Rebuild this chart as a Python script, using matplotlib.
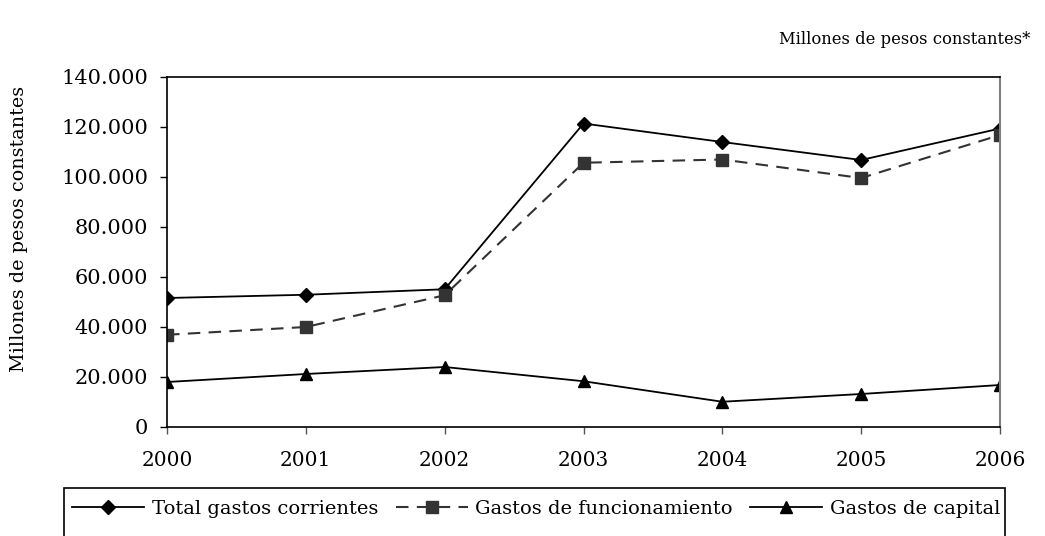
import numpy as np
import matplotlib
matplotlib.use('Agg')
import matplotlib.pyplot as plt
from matplotlib.ticker import FuncFormatter
from matplotlib.patches import Rectangle

years = [2000, 2001, 2002, 2003, 2004, 2005, 2006]
total_corrientes = [51600, 52900, 55100, 121400, 114000, 106800, 119400]
funcionamiento = [36900, 40000, 52700, 105700, 107000, 99600, 116800]
capital = [18000, 21200, 24000, 18300, 10100, 13200, 16800]

plt.rcParams['font.family'] = ['DejaVu Serif']

fig = plt.figure(figsize=(10.45, 5.36), dpi=100)
ax = fig.add_axes([167/1045, 1-427/536, (1000-167)/1045, (427-77)/536])

x = np.arange(len(years))
ax.plot(x, total_corrientes, color='black', lw=1.3, marker='D', ms=7,
        label='Total gastos corrientes')
ax.plot(x, funcionamiento, color='#333333', lw=1.5, ls=(0, (6, 4)), marker='s', ms=8,
        label='Gastos de funcionamiento')
ax.plot(x, capital, color='black', lw=1.3, marker='^', ms=9,
        label='Gastos de capital')

ax.set_xlim(0, 6)
ax.set_ylim(0, 140000)
ax.set_yticks(np.arange(0, 140001, 20000))
ax.yaxis.set_major_formatter(FuncFormatter(lambda v, p: f'{int(v):,}'.replace(',', '.')))
ax.set_xticks(x)
ax.set_xticklabels([str(y) for y in years])
ax.tick_params(axis='y', direction='out', length=5, width=1, labelsize=15, pad=8.5)
ax.tick_params(axis='x', direction='out', length=5, width=1, labelsize=14.5, pad=12, color='#555555')

for s in ['left', 'bottom', 'top']:
    ax.spines[s].set_color('black')
    ax.spines[s].set_linewidth(1.2)
ax.spines['right'].set_color('#808080')
ax.spines['right'].set_linewidth(1.5)

ax.set_ylabel('Millones de pesos constantes', fontsize=13.8)
ax.yaxis.set_label_coords(-0.167, (427-229)/350)

fig.text(1030/1045, 1-40/536, 'Millones de pesos constantes*', fontsize=11.8,
         ha='right', va='center')

leg = fig.legend(loc='center left', bbox_to_anchor=(72/1045, 1-509/536), ncol=3,
                 frameon=False, fontsize=14, handlelength=3.7, handletextpad=0.4,
                 columnspacing=0.9, borderaxespad=0, borderpad=0)
fig.patches.append(Rectangle((64/1045, 1-560/536), (1005-64)/1045, 72/536,
                             transform=fig.transFigure, fill=False,
                             edgecolor='black', lw=1.2))

fig.savefig('out.png', dpi=100)
